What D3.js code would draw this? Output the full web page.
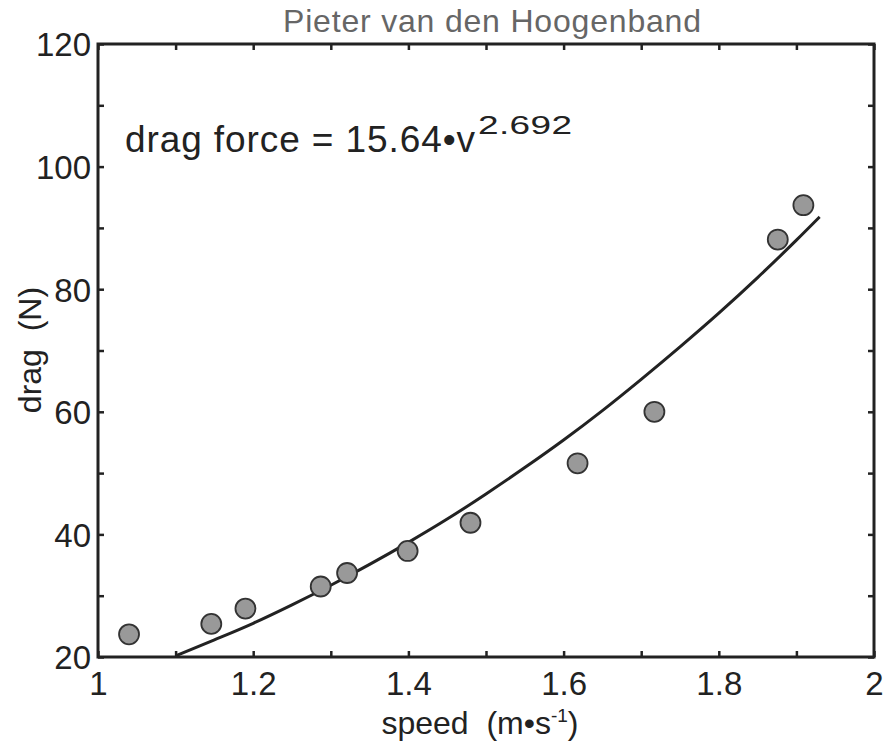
<!DOCTYPE html>
<html>
<head>
<meta charset="utf-8">
<script src="https://cdn.jsdelivr.net/npm/d3@7"></script>
<style>
  html, body { margin: 0; padding: 0; background: #fff; }
  svg text { font-family: "Liberation Sans", Arial, Helvetica, sans-serif; white-space: pre; }
</style>
</head>
<body>
<svg id="chart" width="886" height="744"></svg>
<script>
// Measured points
const speed = [1.040, 1.146, 1.190, 1.287, 1.321, 1.399, 1.480, 1.618, 1.717, 1.876, 1.909];
const drag  = [23.7, 25.4, 27.9, 31.5, 33.7, 37.3, 41.9, 51.6, 60.0, 88.1, 93.7];
// Fitted curve
const fitSpeed = [1.10, 1.15, 1.20, 1.25, 1.30, 1.35, 1.40, 1.45, 1.50, 1.55, 1.60, 1.65, 1.70, 1.75, 1.80, 1.85, 1.90, 1.93];
const fitDrag  = [20.2, 22.8, 25.5, 28.5, 31.7, 35.1, 38.7, 42.5, 46.6, 50.9, 55.4, 60.2, 65.3, 70.6, 76.1, 81.9, 88.0, 91.8];
const xTickLabels = [1, 1.2, 1.4, 1.6, 1.8, 2];
const yTickLabels = [20, 40, 60, 80, 100, 120];
const xMinorTicks = [1.1, 1.3, 1.5, 1.7, 1.9];
const yMinorTicks = [30, 50, 70, 90, 110];

const title = "Pieter van den Hoogenband";

const svg = d3.select("#chart");
const L = 98, R = 874, T = 44, B = 657;
const x = d3.scaleLinear().domain([1, 2]).range([L, R]);
const y = d3.scaleLinear().domain([20, 120]).range([B, T]);

const ink = "#222";
const tickLen = 6;

const allX = xTickLabels.concat(xMinorTicks);
const allY = yTickLabels.concat(yMinorTicks);

function fmtX(d) { return d3.format("~g")(d); }

const gb = svg.append("g").attr("transform", `translate(0,${B})`)
  .call(d3.axisBottom(x).tickValues(allX).tickSizeInner(-tickLen).tickSizeOuter(0)
    .tickFormat(d => xTickLabels.includes(d) ? fmtX(d) : ""));
const gt = svg.append("g").attr("transform", `translate(0,${T})`)
  .call(d3.axisTop(x).tickValues(allX).tickSizeInner(-tickLen).tickSizeOuter(0).tickFormat(""));
const gl = svg.append("g").attr("transform", `translate(${L},0)`)
  .call(d3.axisLeft(y).tickValues(allY).tickSizeInner(-tickLen).tickSizeOuter(0)
    .tickFormat(d => yTickLabels.includes(d) ? d : ""));
const gr = svg.append("g").attr("transform", `translate(${R},0)`)
  .call(d3.axisRight(y).tickValues(allY).tickSizeInner(-tickLen).tickSizeOuter(0).tickFormat(""));

[gb, gt, gl, gr].forEach(g => {
  g.select(".domain").remove();
  g.selectAll(".tick line").attr("stroke", ink).attr("stroke-width", 2.5);
  g.selectAll(".tick text").attr("fill", ink).style("font-size", "33px");
});
gb.selectAll(".tick text").attr("dy", "0").attr("y", 38);
gl.selectAll(".tick text").attr("x", -7).attr("dy", "0.36em");

svg.append("rect").attr("x", L).attr("y", T).attr("width", R - L).attr("height", B - T)
  .attr("fill", "none").attr("stroke", ink).attr("stroke-width", 3);

const line = d3.line().x(d => x(d[0])).y(d => y(d[1])).curve(d3.curveMonotoneX);
svg.append("path").datum(d3.zip(fitSpeed, fitDrag))
  .attr("d", line).attr("fill", "none").attr("stroke", ink).attr("stroke-width", 3);

svg.append("g").selectAll("circle").data(d3.zip(speed, drag)).join("circle")
  .attr("cx", d => x(d[0])).attr("cy", d => y(d[1])).attr("r", 10)
  .attr("fill", "#999").attr("stroke", "#333").attr("stroke-width", 1.8);

// title
svg.append("text").attr("x", 492).attr("y", 32).attr("text-anchor", "middle")
  .attr("fill", "#666").style("font-size", "32px").attr("textLength", 418)
  .attr("lengthAdjust", "spacing").text(title);

// equation
svg.append("text").attr("x", 125).attr("y", 152).attr("fill", ink)
  .style("font-size", "37px").attr("textLength", 350).attr("lengthAdjust", "spacing")
  .text("drag force = 15.64\u2022v");
svg.append("text").attr("transform", "translate(478,134) scale(1,0.7)")
  .attr("fill", ink).style("font-size", "37px").attr("textLength", 94)
  .attr("lengthAdjust", "spacing").text("2.692");

// axis labels
const xl = svg.append("text").attr("x", 480).attr("y", 734).attr("text-anchor", "middle")
  .attr("fill", ink).style("font-size", "32px");
xl.append("tspan").text("speed  (m\u2022s");
xl.append("tspan").attr("dy", -12).style("font-size", "19px").text("-1");
xl.append("tspan").attr("dy", 12).text(")");

svg.append("text").attr("transform", "translate(41,350) rotate(-90)").attr("text-anchor", "middle")
  .attr("fill", ink).style("font-size", "32px").text("drag  (N)");
</script>
</body>
</html>
